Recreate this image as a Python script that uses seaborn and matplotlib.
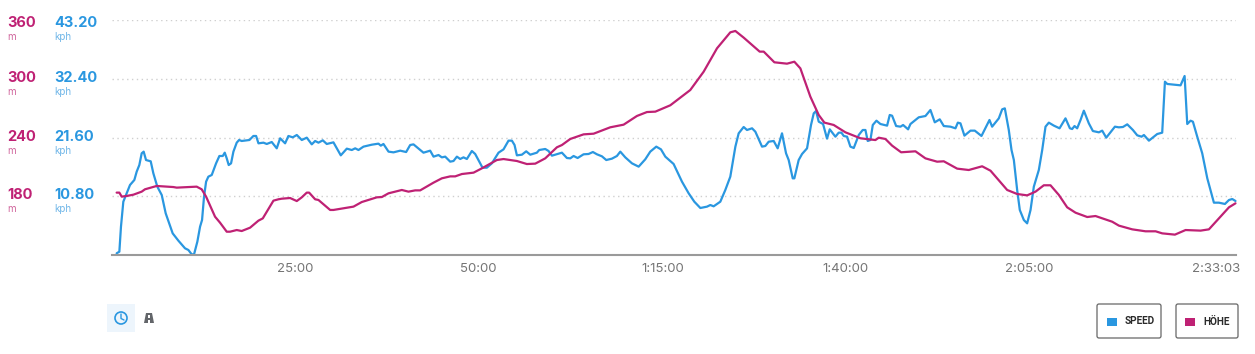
import pandas as pd
import seaborn as sns
import matplotlib.pyplot as plt
from matplotlib.patches import Circle, FancyBboxPatch, Polygon, Rectangle
from matplotlib.transforms import ScaledTranslation

# Speed trace (minutes, kph)
speed_min = [0.70, 1.07, 1.29, 1.61, 2.07, 2.52, 3.11, 3.43, 3.79, 4.11, 4.38, 4.70, 5.34, 5.70, 6.24, 6.84, 7.38, 8.33, 9.11, 10.01,
             10.47, 10.92, 11.24, 11.69, 12.06, 12.33, 12.60, 12.88, 13.19, 13.65, 14.24, 14.69, 15.15, 15.42, 15.69, 15.96, 16.28, 16.60, 17.05, 17.37,
             17.73, 18.78, 19.32, 19.69, 20.01, 20.69, 21.14, 21.82, 22.50, 22.96, 23.64, 24.09, 24.68, 25.23, 25.91, 26.59, 27.27, 27.73, 28.18, 28.77,
             29.31, 30.22, 30.68, 31.22, 32.04, 32.72, 33.18, 33.63, 34.31, 35.45, 36.35, 36.67, 37.03, 37.72, 38.40, 39.31, 40.12, 40.67, 41.12, 42.03,
             42.48, 43.39, 43.85, 44.53, 44.98, 45.44, 46.12, 46.57, 47.03, 47.48, 47.93, 48.39, 49.07, 49.52, 50.52, 51.11, 51.79, 52.70, 53.38, 54.06,
             54.52, 54.88, 55.20, 55.88, 56.47, 57.02, 57.92, 58.24, 59.06, 59.51, 59.97, 61.33, 62.01, 62.47, 62.92, 63.47, 64.28, 64.96, 65.55, 66.10,
             66.78, 67.37, 68.14, 68.82, 69.28, 69.96, 70.87, 71.78, 72.68, 73.36, 74.18, 74.82, 75.41, 76.54, 77.68, 78.59, 79.36, 80.18, 81.09, 81.54,
             81.99, 82.90, 83.58, 84.26, 84.95, 85.40, 86.08, 86.53, 87.22, 87.67, 88.58, 89.03, 89.49, 90.17, 90.71, 91.30, 91.85, 92.21, 92.76, 92.98,
             93.57, 94.03, 94.71, 95.25, 95.62, 95.94, 96.30, 96.89, 97.43, 97.80, 98.48, 98.57, 99.02, 99.39, 99.71, 100.16, 100.61, 101.07, 101.75, 102.29,
             102.66, 102.97, 103.34, 103.66, 104.16, 104.70, 105.61, 105.97, 106.29, 106.84, 107.43, 107.79, 108.47, 108.79, 109.92, 110.83, 111.51, 112.10, 112.78, 113.33,
             114.24, 114.92, 115.24, 115.60, 116.14, 116.96, 117.55, 118.46, 119.55, 119.91, 120.82, 121.28, 121.64, 122.18, 122.55, 122.87, 123.32, 123.68, 124.23, 124.68,
             125.14, 125.59, 126.27, 126.73, 127.18, 127.63, 128.32, 129.09, 129.90, 130.50, 130.81, 131.13, 131.49, 131.95, 132.40, 133.08, 133.63, 134.45, 134.90, 135.45,
             136.63, 137.17, 137.72, 138.31, 139.08, 139.67, 140.26, 140.58, 141.26, 142.39, 143.07, 143.44, 143.76, 145.57, 146.12, 146.48, 146.93, 147.25, 147.84, 148.52,
             149.21, 150.11, 150.79, 151.61, 152.16, 152.61, 153.05]
speed_kph = [0.31, 0.61, 5.21, 9.80, 11.34, 12.87, 13.79, 15.32, 16.54, 18.69, 19.00, 17.46, 17.22, 15.01, 12.56, 11.03, 7.66, 3.98, 2.63, 1.23,
             0.92, 0.12, 0.12, 2.45, 5.21, 6.43, 10.72, 13.48, 14.40, 14.71, 16.85, 18.20, 18.20, 18.81, 17.77, 16.54, 16.85, 19.00, 20.65, 21.14,
             20.96, 21.14, 21.88, 21.88, 20.53, 20.65, 20.41, 20.77, 19.61, 21.45, 20.53, 21.88, 21.63, 22.06, 21.14, 21.57, 20.34, 20.96, 20.65, 21.08,
             20.41, 20.71, 19.61, 18.32, 19.55, 19.30, 19.61, 19.30, 19.92, 20.28, 20.47, 20.10, 20.41, 19.00, 18.87, 19.18, 18.93, 20.22, 20.34, 19.30,
             18.81, 19.18, 18.08, 18.38, 17.95, 18.08, 17.16, 17.28, 18.08, 17.65, 17.95, 17.65, 19.12, 18.57, 16.05, 16.05, 16.85, 18.81, 19.42, 21.02,
             21.02, 20.22, 18.32, 18.44, 19.06, 18.44, 18.81, 19.30, 19.49, 19.12, 18.26, 18.81, 17.83, 17.77, 18.20, 17.83, 18.51, 18.57, 18.93, 18.51,
             18.14, 17.46, 17.71, 18.20, 19.00, 17.95, 16.85, 16.24, 17.59, 19.00, 19.92, 19.42, 18.08, 16.73, 13.48, 11.34, 9.80, 8.64, 8.89, 9.19,
             8.95, 9.80, 11.95, 14.40, 19.92, 22.37, 23.53, 22.98, 23.29, 22.67, 19.92, 20.04, 20.83, 20.96, 19.61, 22.37, 18.69, 17.46, 14.09, 14.09,
             17.46, 18.57, 19.61, 23.90, 26.04, 26.47, 24.51, 24.08, 21.39, 23.10, 21.88, 21.75, 22.49, 22.49, 21.88, 21.75, 19.92, 19.67, 22.06, 22.98,
             22.98, 20.96, 21.14, 23.90, 24.69, 24.08, 23.78, 25.74, 25.61, 23.71, 23.59, 23.90, 23.10, 24.08, 25.31, 25.55, 26.66, 24.39, 24.94, 23.71,
             23.59, 23.29, 24.33, 24.20, 21.94, 22.86, 22.86, 21.88, 24.82, 23.59, 25.12, 26.78, 26.96, 22.98, 19.30, 17.46, 11.95, 8.27, 6.43, 5.82,
             8.27, 12.56, 15.63, 19.30, 23.59, 24.33, 23.78, 23.29, 25.12, 23.29, 23.16, 23.71, 23.29, 24.82, 26.53, 24.20, 22.79, 22.55, 22.86, 21.57,
             23.59, 23.47, 23.53, 24.02, 22.98, 22.00, 21.75, 22.06, 21.02, 22.24, 22.49, 31.86, 31.44, 31.19, 32.91, 24.08, 24.69, 24.51, 21.75, 18.69,
             14.09, 9.62, 9.62, 9.38, 10.11, 10.29, 9.93]

# Elevation trace (minutes, metres)
hoehe_min = [0.70, 1.07, 1.39, 2.07, 2.98, 4.11, 4.56, 6.15, 8.42, 8.88, 11.60, 12.28, 12.88, 14.10, 14.78, 15.69, 16.14, 17.05, 17.73, 18.87,
             20.01, 20.60, 22.05, 22.73, 23.18, 24.32, 25.23, 25.91, 26.59, 26.91, 27.73, 28.18, 29.77, 30.22, 32.95, 34.08, 36.13, 36.81, 37.72, 39.53,
             40.44, 41.35, 42.03, 43.85, 44.98, 46.12, 46.80, 47.71, 49.30, 50.43, 52.47, 53.38, 55.20, 56.56, 57.70, 59.06, 60.65, 61.33, 62.47, 64.28,
             65.65, 67.91, 69.73, 71.55, 72.91, 74.05, 76.09, 78.81, 80.63, 82.45, 84.26, 84.95, 86.08, 88.26, 88.81, 90.26, 91.98, 92.98, 93.80, 95.16,
             96.30, 97.07, 98.34, 98.57, 99.93, 101.98, 104.02, 104.47, 105.38, 106.29, 107.52, 109.47, 110.83, 112.42, 113.33, 115.15, 116.73, 118.55, 119.69, 121.96,
             123.32, 124.68, 125.82, 126.95, 127.86, 129.00, 130.13, 131.27, 132.86, 133.99, 136.26, 137.17, 138.99, 140.80, 142.17, 143.07, 144.80, 146.25, 148.30, 149.43,
             150.79, 152.16, 153.05]
hoehe_m = [183.7, 183.7, 179.6, 180.3, 181.6, 184.7, 187.1, 190.5, 189.4, 188.8, 189.8, 187.1, 179.6, 159.1, 153.0, 143.8, 143.8, 145.5, 144.5, 147.9,
           155.1, 157.4, 175.5, 176.9, 177.5, 178.2, 175.1, 178.9, 183.7, 183.7, 176.9, 176.2, 166.0, 166.0, 169.4, 174.1, 178.9, 179.2, 183.0, 186.4,
           184.7, 186.0, 186.0, 193.9, 198.3, 200.3, 200.3, 202.7, 204.1, 208.5, 217.0, 218.0, 216.0, 212.9, 213.3, 218.7, 230.0, 232.3, 238.5, 243.2,
           243.9, 250.4, 253.1, 262.0, 266.0, 266.4, 272.9, 288.5, 307.2, 331.1, 347.4, 348.8, 342.0, 327.7, 327.7, 316.8, 315.4, 317.4, 310.6, 281.7,
           263.0, 255.2, 252.8, 251.7, 245.3, 239.2, 237.4, 239.8, 238.5, 231.7, 224.9, 225.9, 218.7, 215.3, 215.7, 208.2, 206.8, 210.6, 206.1, 186.4,
           182.3, 180.9, 184.7, 191.2, 191.2, 181.3, 168.7, 163.2, 158.8, 159.8, 154.0, 150.0, 146.2, 144.2, 144.2, 142.1, 140.8, 145.5, 144.9, 146.2,
           157.4, 168.7, 172.8]

# Axis labels
time_ticks = [25, 50, 75, 100, 125, 153.05]
time_labels = ["25:00", "50:00", "1:15:00", "1:40:00", "2:05:00", "2:33:03"]
speed_ticks = [10.8, 21.6, 32.4, 43.2]
speed_labels = ["10.80", "21.60", "32.40", "43.20"]
hoehe_labels = ["180", "240", "300", "360"]
legend_names = ["SPEED", "HÖHE"]

BLUE = "#2a97e0"
MAGENTA = "#bf2174"
W, H = 1255, 354

sns.set_theme(style="white")
plt.rcParams['font.family'] = ['Inter', 'DejaVu Sans']


def fx(x):
    return x / W


def fy(y):
    return 1 - y / H


speed_df = pd.DataFrame({"t": speed_min, "v": speed_kph})
hoehe_df = pd.DataFrame({"t": hoehe_min, "v": hoehe_m})

fig = plt.figure(figsize=(12.55, 3.54), dpi=100)
ax = fig.add_axes([fx(111.5), fy(255), (1235.5 - 111.5) / W, 235 / H])
ax2 = ax.twinx()

sns.lineplot(data=speed_df, x="t", y="v", ax=ax, color=BLUE, lw=1.6, estimator=None, sort=False, clip_on=False)
sns.lineplot(data=hoehe_df, x="t", y="v", ax=ax2, color=MAGENTA, lw=1.6, estimator=None, sort=False, clip_on=False)

ax.set_xlim(0, 153.05)
ax.set_ylim(0, 43.2)
ax2.set_ylim(120, 360)
ax.set_xlabel("")
ax.set_ylabel("")
ax2.set_ylabel("")
ax2.set_yticks([])

ax.set_yticks(speed_ticks)
ax.set_yticklabels([])
ax.grid(axis="y", color="#cfcfcf", linestyle=(0, (1, 2.5)), lw=1)
ax.tick_params(axis="y", length=0)

ax.set_xticks(time_ticks)
ax.set_xticklabels(time_labels, fontsize=9.5, color="#757575")
ax.tick_params(axis="x", length=0, pad=6)
last = ax.get_xticklabels()[-1]
last.set_ha("right")
last.set_transform(last.get_transform() + ScaledTranslation(5 / 100, 0, fig.dpi_scale_trans))

for a in (ax, ax2):
    for side in ("top", "left", "right"):
        a.spines[side].set_visible(False)
ax.spines["bottom"].set_visible(False)
ax2.spines["bottom"].set_color("#9a9a9a")
ax2.spines["bottom"].set_linewidth(1.5)

# Stacked value labels left of the plot
label_y = [195, 137, 78, 23]
for h, s, y in zip(hoehe_labels, speed_labels, label_y):
    fig.text(fx(7), fy(y), h, color=MAGENTA, fontsize=10.5, fontweight="bold", va="center")
    fig.text(fx(54), fy(y), s, color=BLUE, fontsize=10.5, fontweight="bold", va="center")
    fig.text(fx(7), fy(y + 14), "m", color="#d0659c", fontsize=7, va="center")
    fig.text(fx(54), fy(y + 14), "kph", color="#6fb6e8", fontsize=7, va="center")

# Time / distance toggle
fig.add_artist(Rectangle((fx(107), fy(332)), 28 / W, 28 / H, transform=fig.transFigure, fc="#edf5fc", ec="none"))
fig.add_artist(plt.Line2D([fx(121), fx(121), fx(124)], [fy(314), fy(318.5), fy(320)], color=BLUE, lw=1))
clock = Circle((121, H - 318), 6, transform=None, fc="none", ec=BLUE, lw=1.2)
fig.add_artist(clock)
road = Polygon([(fx(146), fy(313)), (fx(152), fy(313)), (fx(154), fy(323)), (fx(144), fy(323))],
               closed=True, transform=fig.transFigure, fc="#63666a", ec="none")
fig.add_artist(road)
fig.add_artist(Rectangle((fx(148.2), fy(323)), 1.6 / W, 3.5 / H, transform=fig.transFigure, fc="white", ec="none"))
fig.add_artist(Rectangle((fx(148.2), fy(317.5)), 1.6 / W, 3 / H, transform=fig.transFigure, fc="white", ec="none"))

# Legend buttons
boxes = [(1097, 64, 1107, 1125, BLUE), (1176, 62, 1185, 1203, MAGENTA)]
for name, (bx, bw, sx, tx, col) in zip(legend_names, boxes):
    fig.add_artist(FancyBboxPatch((bx, H - 338), bw, 34, boxstyle="round,pad=0,rounding_size=2", transform=None,
                                  fc="white", ec="#666666", lw=0.9))
    fig.add_artist(Rectangle((fx(sx), fy(326)), 10 / W, 8 / H, transform=fig.transFigure, fc=col, ec="none"))
    fig.text(fx(tx), fy(321.5), name, color="#2b2b2b", fontsize=7.2, fontweight="bold", va="center",
             family=["Liberation Sans Narrow", "Roboto", "DejaVu Sans"])

fig.savefig("out.png", dpi=100)
